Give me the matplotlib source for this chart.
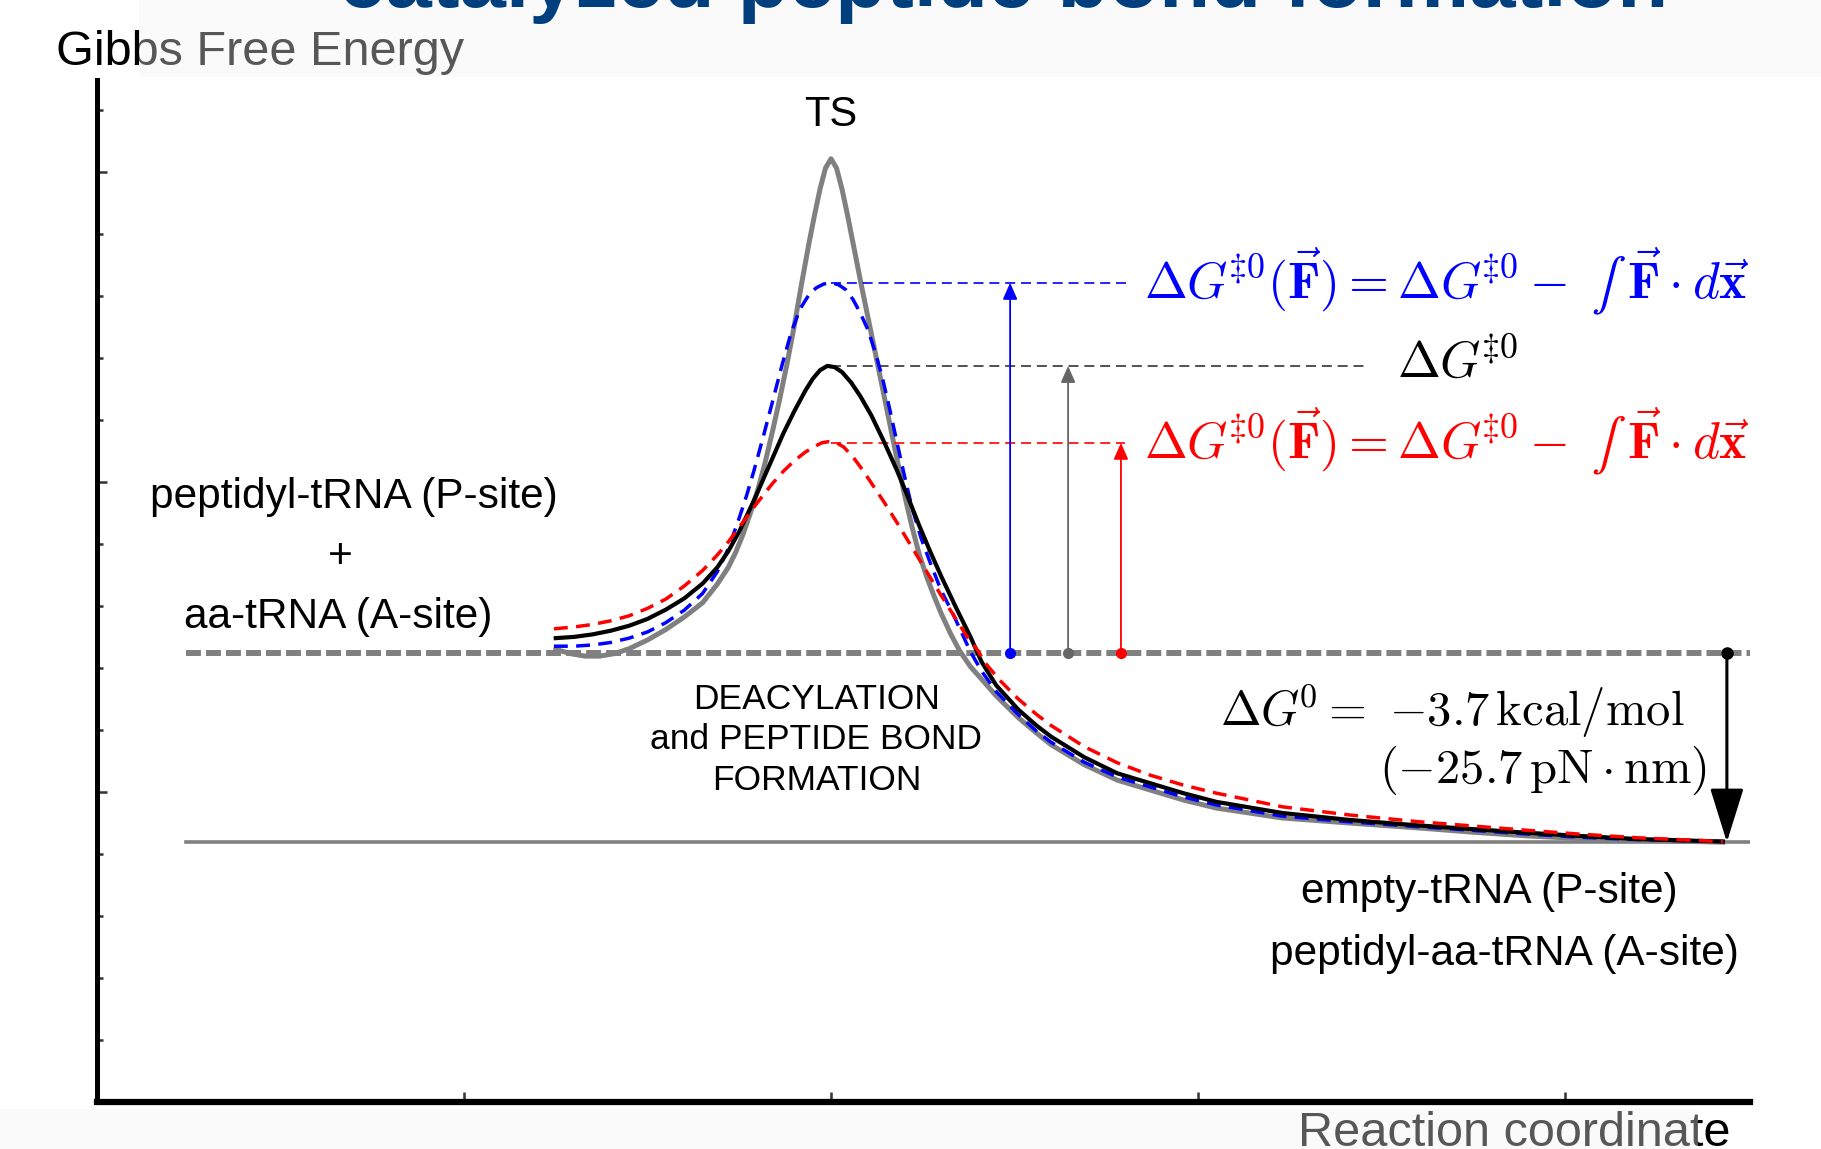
import matplotlib.pyplot as plt
from matplotlib.patches import Rectangle

plt.rcParams['font.family'] = ['Liberation Sans', 'DejaVu Sans']
plt.rcParams['mathtext.fontset'] = 'cm'

# energy levels (arbitrary units)
REACTANT_LEVEL = 7.24
PRODUCT_LEVEL = 4.19
LEVEL_X = [0.243, 4.504]

# barrier tops: no force (black), force opposing (blue), force aiding (red)
PEAK_X = 2.0
PEAK_BLACK = 11.87
PEAK_BLUE = 13.21
PEAK_RED = 10.63

# vertical arrow positions
ARROW_X = {'blue': 2.488, 'gray': 2.646, 'red': 2.790}
DG0_X = 4.441

# profiles
GRAY_X = [1.25, 1.29, 1.33, 1.37, 1.41, 1.45, 1.50, 1.55, 1.60, 1.65, 1.69, 1.72,
          1.74, 1.76, 1.78, 1.80, 1.82, 1.84, 1.86, 1.88, 1.90, 1.92, 1.94, 1.955,
          1.97, 1.985, 2.0, 2.015, 2.03, 2.045, 2.06, 2.08, 2.10, 2.12, 2.14, 2.16,
          2.18, 2.20, 2.22, 2.24, 2.26, 2.28, 2.30, 2.325, 2.35, 2.38, 2.41, 2.45,
          2.51, 2.56, 2.60, 2.69, 2.78, 2.87, 2.96, 3.05, 3.23, 3.41, 3.60, 3.75,
          3.90, 4.04, 4.20, 4.43]
GRAY_Y = [7.30, 7.23, 7.19, 7.19, 7.23, 7.31, 7.45, 7.62, 7.82, 8.05, 8.35, 8.62,
          8.86, 9.15, 9.49, 9.86, 10.30, 10.80, 11.33, 11.90, 12.52, 13.20, 13.85, 14.30,
          14.72, 15.06, 15.21, 15.06, 14.72, 14.30, 13.85, 13.25, 12.67, 12.10, 11.52, 10.94,
          10.36, 9.80, 9.29, 8.84, 8.48, 8.17, 7.88, 7.56, 7.28, 7.02, 6.82, 6.55,
          6.20, 5.95, 5.76, 5.44, 5.19, 5.03, 4.87, 4.74, 4.58, 4.50, 4.42, 4.35,
          4.29, 4.25, 4.22, 4.19]

BLACK_X = [1.25, 1.30, 1.35, 1.40, 1.45, 1.50, 1.55, 1.60, 1.65, 1.69, 1.72, 1.75,
           1.79, 1.83, 1.87, 1.90, 1.93, 1.95, 1.97, 1.99, 2.01, 2.03, 2.055, 2.08,
           2.11, 2.145, 2.18, 2.21, 2.24, 2.27, 2.30, 2.34, 2.38, 2.41, 2.45, 2.51,
           2.56, 2.60, 2.69, 2.78, 2.87, 2.96, 3.05, 3.23, 3.41, 3.60, 3.75, 3.90,
           4.04, 4.20, 4.43]
BLACK_Y = [7.48, 7.50, 7.54, 7.60, 7.68, 7.79, 7.94, 8.12, 8.36, 8.62, 8.88, 9.20,
           9.70, 10.24, 10.78, 11.14, 11.47, 11.66, 11.80, 11.87, 11.85, 11.77, 11.60, 11.38,
           11.07, 10.64, 10.18, 9.75, 9.30, 8.88, 8.48, 7.98, 7.50, 7.10, 6.72, 6.33,
           6.07, 5.89, 5.56, 5.30, 5.14, 4.98, 4.84, 4.66, 4.55, 4.46, 4.40, 4.34,
           4.29, 4.24, 4.20]

BLUE_X = [1.245, 1.30, 1.35, 1.40, 1.45, 1.50, 1.55, 1.60, 1.65, 1.69, 1.72, 1.75,
          1.77, 1.79, 1.815, 1.84, 1.865, 1.89, 1.915, 1.94, 1.96, 1.98, 2.0, 2.02,
          2.04, 2.06, 2.08, 2.10, 2.12, 2.14, 2.16, 2.18, 2.20, 2.22, 2.245, 2.27,
          2.30, 2.33, 2.355, 2.38, 2.41, 2.45, 2.51, 2.56, 2.60, 2.69, 2.78, 2.87,
          2.96, 3.05, 3.23, 3.41, 3.60, 3.75, 3.90, 4.04, 4.20, 4.43]
BLUE_Y = [7.35, 7.35, 7.37, 7.41, 7.48, 7.58, 7.73, 7.93, 8.20, 8.55, 8.92, 9.42,
          9.78, 10.18, 10.72, 11.28, 11.85, 12.38, 12.78, 13.02, 13.13, 13.19, 13.21, 13.18,
          13.10, 12.94, 12.72, 12.46, 12.10, 11.68, 11.17, 10.63, 10.10, 9.60, 9.10, 8.70,
          8.25, 7.90, 7.58, 7.26, 6.95, 6.62, 6.25, 5.98, 5.80, 5.48, 5.24, 5.08,
          4.92, 4.79, 4.61, 4.52, 4.44, 4.38, 4.32, 4.27, 4.23, 4.20]

RED_X = [1.245, 1.30, 1.35, 1.40, 1.45, 1.50, 1.55, 1.60, 1.65, 1.69, 1.72, 1.76,
         1.80, 1.84, 1.87, 1.90, 1.93, 1.955, 1.975, 1.995, 2.015, 2.035, 2.06, 2.085,
         2.11, 2.145, 2.18, 2.22, 2.26, 2.30, 2.335, 2.37, 2.40, 2.42, 2.46, 2.51,
         2.56, 2.60, 2.69, 2.78, 2.87, 2.96, 3.05, 3.23, 3.41, 3.60, 3.75, 3.90,
         4.04, 4.20, 4.43]
RED_Y = [7.63, 7.66, 7.70, 7.76, 7.84, 7.96, 8.11, 8.32, 8.57, 8.82, 9.03, 9.35,
         9.67, 9.97, 10.17, 10.34, 10.48, 10.57, 10.63, 10.65, 10.63, 10.56, 10.40, 10.20,
         9.98, 9.67, 9.34, 8.95, 8.56, 8.17, 7.84, 7.51, 7.28, 7.08, 6.80, 6.50,
         6.25, 6.07, 5.73, 5.47, 5.27, 5.11, 4.98, 4.76, 4.63, 4.52, 4.45, 4.38,
         4.32, 4.26, 4.20]

GRAY = '#808080'

fig = plt.figure(figsize=(18.21, 11.49), dpi=100)
ax = fig.add_axes([97 / 1821, 47 / 1149, 1653 / 1821, 1022 / 1149])
ax.set_xlim(0, 4.504)
ax.set_ylim(0, 16.48)

# levels
ax.plot(LEVEL_X, [REACTANT_LEVEL] * 2, color=GRAY, lw=4.3, dashes=(2.5, 0.85),
        solid_capstyle='butt', zorder=1)
ax.plot(LEVEL_X, [PRODUCT_LEVEL] * 2, color=GRAY, lw=2.6, zorder=1)

# profiles
ax.plot(GRAY_X, GRAY_Y, color=GRAY, lw=3.6, zorder=2, solid_joinstyle='round')
ax.plot(BLUE_X, BLUE_Y, color='blue', lw=2.5, dashes=(4, 2.4), zorder=3)
ax.plot(BLACK_X, BLACK_Y, color='black', lw=3.0, zorder=4, solid_joinstyle='round')
ax.plot(RED_X, RED_Y, color='red', lw=2.5, dashes=(4, 2.4), zorder=5)

# barrier guides
ax.plot([PEAK_X, 2.81], [PEAK_BLUE] * 2, color='blue', lw=1.2, dashes=(6, 3.5), zorder=2)
ax.plot([PEAK_X, 3.455], [PEAK_BLACK] * 2, color='#333333', lw=1.2, dashes=(6, 3.5), zorder=2)
ax.plot([PEAK_X, 2.80], [PEAK_RED] * 2, color='red', lw=1.2, dashes=(6, 3.5), zorder=2)

for key, top, col in [('blue', PEAK_BLUE, 'blue'), ('gray', PEAK_BLACK, '#666666'),
                      ('red', PEAK_RED, 'red')]:
    x = ARROW_X[key]
    ax.annotate('', xy=(x, top), xytext=(x, REACTANT_LEVEL),
                arrowprops=dict(arrowstyle='-|>,head_length=0.5,head_width=0.22',
                                color=col, lw=1.3, mutation_scale=20,
                                shrinkA=0, shrinkB=0), zorder=6)
    ax.plot(x, REACTANT_LEVEL, 'o', color=col, ms=7, zorder=7)

ax.annotate('', xy=(DG0_X, PRODUCT_LEVEL), xytext=(DG0_X, REACTANT_LEVEL),
            arrowprops=dict(arrowstyle='-|>,head_length=0.45,head_width=0.14',
                            color='black', lw=2.2, mutation_scale=75,
                            shrinkA=0, shrinkB=0), zorder=6)
ax.plot(DG0_X, REACTANT_LEVEL, 'o', color='black', ms=8, zorder=7)

# labels
ax.text(PEAK_X, 15.92, 'TS', ha='center', va='center', fontsize=30)
ax.text(0.70, 9.76, 'peptidyl-tRNA (P-site)', ha='center', va='center', fontsize=30.5)
ax.text(0.662, 8.79, '+', ha='center', va='center', fontsize=30.5)
ax.text(0.657, 7.82, 'aa-tRNA (A-site)', ha='center', va='center', fontsize=30.5)
ax.text(1.96, 5.84, 'DEACYLATION\nand PEPTIDE BOND\nFORMATION', ha='center',
        va='center', fontsize=25.5, linespacing=1.28)
ax.text(3.793, 3.39, 'empty-tRNA (P-site)', ha='center', va='center', fontsize=30.5)
ax.text(3.834, 2.39, 'peptidyl-aa-tRNA (A-site)', ha='center', va='center', fontsize=30.5)

formula = (r'$\Delta G^{\!‡0}(\vec{\mathbf{F}}) = \Delta G^{\!‡0}'
           r' -\;∫\;\vec{\mathbf{F}}\cdot d\vec{\mathbf{x}}$')
ax.text(2.853, 13.23, formula, color='blue', ha='left', va='center', fontsize=37)
ax.text(3.542, 11.9, r'$\Delta G^{\!‡0}$', color='black', ha='left',
        va='center', fontsize=37)
ax.text(2.853, 10.66, formula, color='red', ha='left', va='center', fontsize=37)
ax.text(3.06, 6.31, r'$\Delta G^{\!0} =\ {-3.7}\,\mathrm{kcal/mol}$', ha='left',
        va='center', fontsize=35)
ax.text(4.387, 5.34, r'$({-25.7}\,\mathrm{pN}\cdot\mathrm{nm})$', ha='right',
        va='center', fontsize=35)

# axes styling
for side in ['top', 'right']:
    ax.spines[side].set_visible(False)
ax.spines['left'].set_linewidth(3.6)
ax.spines['bottom'].set_linewidth(4.5)
ax.set_xticks([1, 2, 3, 4])
ax.set_xticklabels([])
ax.set_yticks([5, 10, 15])
ax.set_yticks([1, 2, 3, 4, 6, 7, 8, 9, 11, 12, 13, 14, 16], minor=True)
ax.set_yticklabels([])
ax.tick_params(axis='x', direction='in', length=7, width=1.8, color='#333333')
ax.tick_params(axis='y', which='major', direction='in', length=7, width=1.8,
               color='#333333')
ax.tick_params(axis='y', which='minor', direction='in', length=4, width=1.8,
               color='#333333')

fig.text(56 / 1821, 1 - 65 / 1149, 'Gibbs Free Energy', ha='left',
         va='baseline', fontsize=35, zorder=3)
fig.text(1730 / 1821, 3 / 1149, 'Reaction coordinate', ha='right',
         va='baseline', fontsize=35, zorder=3)

# translucent slide boxes that grey out part of the axis titles
fig.add_artist(Rectangle((139 / 1821, 1 - 77 / 1149), 1, 77 / 1149,
                         transform=fig.transFigure, facecolor='#f2f2f2',
                         alpha=0.36, edgecolor='none', zorder=5))
fig.add_artist(Rectangle((0, 0), 1698 / 1821, 40 / 1149,
                         transform=fig.transFigure, facecolor='#f2f2f2',
                         alpha=0.36, edgecolor='none', zorder=5))

fig.text(0.551, 1 - 7 / 1149, 'catalyzed peptide bond formation', ha='center',
         va='baseline', fontsize=60, fontweight='bold', color='#003f7d', zorder=6)

fig.savefig('out.png', dpi=100)
